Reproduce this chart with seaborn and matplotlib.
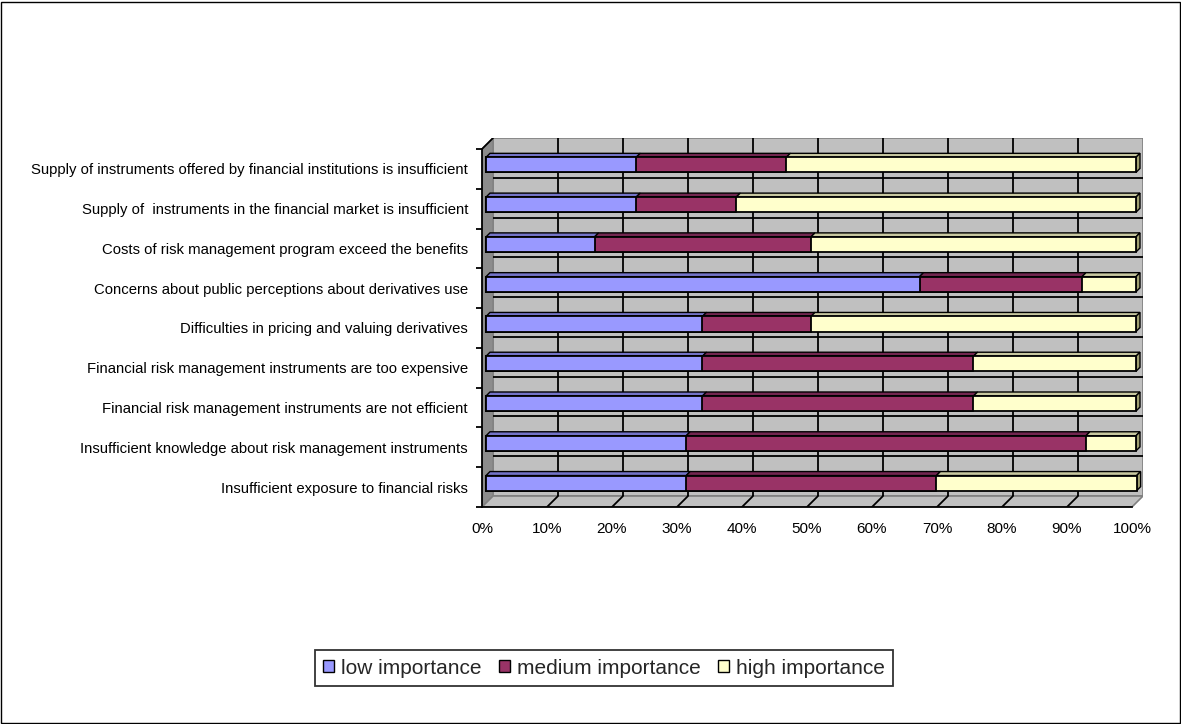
import numpy as np
import pandas as pd
import matplotlib
matplotlib.use("Agg")
import matplotlib.pyplot as plt
import seaborn as sns
from matplotlib.patches import Polygon, Rectangle, Patch
from matplotlib.transforms import offset_copy

# ---------------- data ----------------
categories = [
    "Supply of instruments offered by financial institutions is insufficient",
    "Supply of  instruments in the financial market is insufficient",
    "Costs of risk management program exceed the benefits",
    "Concerns about public perceptions about derivatives use",
    "Difficulties in pricing and valuing derivatives",
    "Financial risk management instruments are too expensive",
    "Financial risk management instruments are not efficient",
    "Insufficient knowledge about risk management instruments",
    "Insufficient exposure to financial risks",
]
low = [23.1, 23.1, 16.7, 66.7, 33.3, 33.3, 33.3, 30.8, 30.8]
medium = [23.1, 15.4, 33.3, 25.0, 16.7, 41.7, 41.7, 61.5, 38.5]
high = [53.8, 61.5, 50.0, 8.3, 50.0, 25.0, 25.0, 7.7, 30.8]
series_names = ["low importance", "medium importance", "high importance"]
x_ticks = list(range(0, 101, 10))
x_tick_labels = [f"{t}%" for t in x_ticks]

# ---------------- style ----------------
sns.set_theme(style="white")
plt.rcParams['font.family'] = ['Liberation Sans', 'DejaVu Sans']

front_colors = ["#9999FF", "#993366", "#FFFFCC"]
top_colors = ["#7373C8", "#732650", "#C8C8A0"]
side_color = "#A0A070"

W, H = 1181, 724
fig = plt.figure(figsize=(W / 100, H / 100), dpi=100)
ax_left, ax_right, ax_top, ax_bottom = 482, 1143, 138, 507
ax = fig.add_axes([ax_left / W, 1 - ax_bottom / H,
                   (ax_right - ax_left) / W, (ax_bottom - ax_top) / H])

n = len(categories)
depth_px = 11
front_w = 648.0
cat_px = (ax_bottom - depth_px - ax_top) / n
DX = depth_px * 100 / front_w
DY = depth_px / cat_px

# ---------------- bars (front faces) ----------------
df = pd.DataFrame({"category": categories, "low": low,
                   "medium": medium, "high": high})
df["cum_low"] = df["low"]
df["cum_med"] = df["low"] + df["medium"]
df["cum_high"] = df["low"] + df["medium"] + df["high"]

bar_h = 0.38
before = set(ax.patches)
for col, color in [("cum_high", front_colors[2]),
                   ("cum_med", front_colors[1]),
                   ("cum_low", front_colors[0])]:
    sns.barplot(data=df, x=col, y="category", order=categories, orient="h",
                color=color, saturation=1, width=bar_h, errorbar=None,
                edgecolor="black", linewidth=1.3, ax=ax, zorder=3)
bars = [p for p in ax.patches if p not in before]

bar_off_px = 4
tr = offset_copy(ax.transData, fig=fig, x=bar_off_px, y=bar_off_px, units="dots")
for p in bars:
    p.set_transform(tr)

# 3D top and side faces of bars
bdx = 4 * 100 / front_w
bdy = 4 / cat_px
for i in range(n):
    yt = i - bar_h / 2
    yb = i + bar_h / 2
    edges = [0, df["cum_low"][i], df["cum_med"][i], df["cum_high"][i]]
    for s in range(3):
        x0, x1 = edges[s], edges[s + 1]
        ax.add_patch(Polygon([(x0, yt), (x1, yt), (x1 + bdx, yt - bdy), (x0 + bdx, yt - bdy)],
                             closed=True, fc=top_colors[s], ec="black", lw=1.0,
                             transform=tr, zorder=2.9))
    xr = edges[3]
    ax.add_patch(Polygon([(xr, yt), (xr + bdx, yt - bdy), (xr + bdx, yb - bdy), (xr, yb)],
                         closed=True, fc=side_color, ec="black", lw=1.0,
                         transform=tr, zorder=2.9))

# ---------------- walls / floor ----------------
wall_c = "#C0C0C0"
edge_c = "#808080"
ax.add_patch(Rectangle((DX, -0.5 - DY), 100, n, fc=wall_c, ec=edge_c, lw=1.2, zorder=0.2))
ax.add_patch(Polygon([(0, -0.5), (DX, -0.5 - DY), (DX, n - 0.5 - DY), (0, n - 0.5)],
                     closed=True, fc="#8C8C8C", ec=edge_c, lw=1.0, zorder=0.25))
ax.add_patch(Polygon([(0, n - 0.5), (100, n - 0.5), (100 + DX, n - 0.5 - DY), (DX, n - 0.5 - DY)],
                     closed=True, fc=wall_c, ec=edge_c, lw=1.2, zorder=0.25))

ax.vlines([t + DX for t in x_ticks[1:-1]], -0.5 - DY, n - 0.5 - DY,
          color="black", lw=1.3, zorder=0.3)
ax.hlines([k - 0.5 - DY for k in range(1, n)], DX, 100 + DX,
          color="black", lw=1.3, zorder=0.3)
for t in x_ticks[1:-1]:
    ax.plot([t, t + DX], [n - 0.5, n - 0.5 - DY], color="black", lw=1.3, zorder=0.35)
ax.plot([0, DX], [-0.5, -0.5 - DY], color="black", lw=1.3, zorder=0.35)

# ---------------- axes ----------------
ax.set_xlim(0, 100 + DX)
ax.set_ylim(n - 0.5, -0.5 - DY)
ax.set_xlabel("")
ax.set_ylabel("")
for side in ["top", "right"]:
    ax.spines[side].set_visible(False)
for side in ["left", "bottom"]:
    ax.spines[side].set_color("black")
    ax.spines[side].set_linewidth(1.3)
    ax.spines[side].set_zorder(4)
ax.spines["left"].set_bounds(-0.5, n - 0.5)
ax.spines["bottom"].set_bounds(0, 100)

ax.set_xticks(x_ticks, x_tick_labels)
ax.tick_params(axis="x", direction="out", length=5, width=1.3, color="black",
               pad=6, labelsize=11, labelcolor="black")
ax.set_yticks(range(n), categories)
ax.set_yticks([k - 0.5 for k in range(n + 1)], minor=True)
ax.tick_params(axis="y", which="major", length=0, pad=10, labelsize=10.7, labelcolor="black")
ax.tick_params(axis="y", which="minor", direction="out", length=4.5, width=1.3, color="black", left=True)
ax.set_facecolor("white")

# ---------------- legend ----------------
handles = [Patch(fc=c, ec="black", lw=1.0) for c in front_colors]
leg = fig.legend(handles, series_names, loc="center",
                 bbox_to_anchor=(604 / W, 1 - 668 / H), ncol=3, frameon=True,
                 fancybox=False, edgecolor="black", fontsize=15,
                 handlelength=0.5, handleheight=0.5, handletextpad=0.35,
                 columnspacing=0.85, borderpad=0.4)
leg.get_frame().set_linewidth(1.3)

# figure border
fig.patches.append(Rectangle((0.5 / W, 1.5 / H), (W - 2) / W, (H - 3) / H,
                             transform=fig.transFigure, fill=False,
                             ec="black", lw=1.0))

fig.savefig("out.png", dpi=100)
